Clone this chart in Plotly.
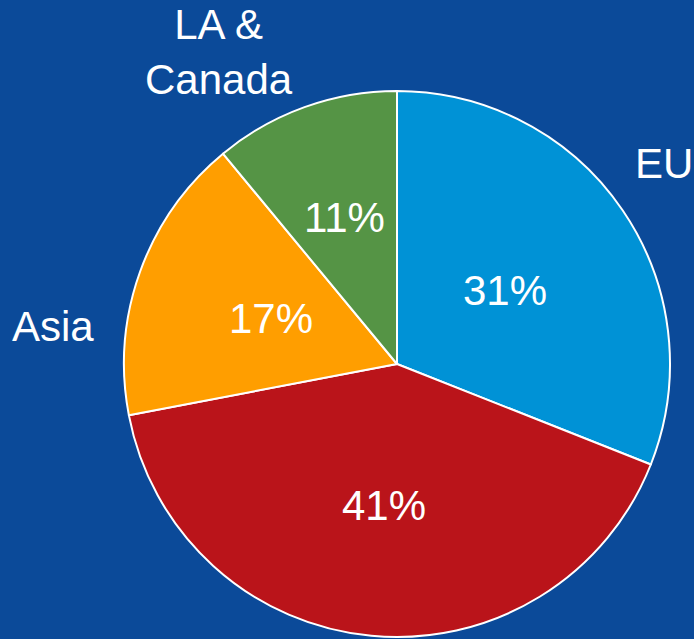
import math
import plotly.graph_objects as go

# Regional share of sales
regions = ["EU", "US", "Asia", "LA &<br>Canada"]
shares = [31, 41, 17, 11]
colors = ["#0092D6", "#BA141A", "#FF9E00", "#559445"]

BG = "#0B4A99"
FONT = "Liberation Sans, Arial, sans-serif"
W, H = 694, 639

# Pie placement in pixels (centre and radius)
CX, CY, R = 397, 364, 273
dom_x = [(CX - R) / W, (CX + R) / W]
dom_y = [1 - (CY + R) / H, 1 - (CY - R) / H]

fig = go.Figure(
    go.Pie(
        labels=regions,
        values=shares,
        sort=False,
        direction="clockwise",
        rotation=0,
        marker=dict(colors=colors, line=dict(color="white", width=2)),
        textinfo="none",
        hoverinfo="label+percent",
        showlegend=False,
        domain=dict(x=dom_x, y=dom_y),
    )
)

# Percentage labels along each slice's bisector
label_radius = [0.48, 0.52, 0.49, 0.57]
total = sum(shares)
start = 0.0
for v, rf in zip(shares, label_radius):
    mid = (start + v / 2) / total * 2 * math.pi  # clockwise from 12 o'clock
    px = CX + rf * R * math.sin(mid)
    py = CY - rf * R * math.cos(mid)
    fig.add_annotation(
        text=f"{round(100 * v / total)}%", x=px / W, y=1 - py / H,
        xref="paper", yref="paper", xanchor="center", yanchor="middle",
        showarrow=False, font=dict(color="white", size=42, family=FONT),
    )
    start += v

# Region names placed outside the pie
outside = [
    dict(text="EU", x=664, y=163),
    dict(text="Asia", x=53, y=327),
    dict(text="LA &<br>Canada", x=219, y=52),
]
for a in outside:
    fig.add_annotation(
        text=a["text"], x=a["x"] / W, y=1 - a["y"] / H, xref="paper", yref="paper",
        xanchor="center", yanchor="middle", showarrow=False,
        font=dict(color="white", size=42, family=FONT),
    )

fig.update_layout(
    width=W, height=H,
    margin=dict(l=0, r=0, t=0, b=0),
    paper_bgcolor=BG, plot_bgcolor=BG,
)

fig.write_html("out.html")
